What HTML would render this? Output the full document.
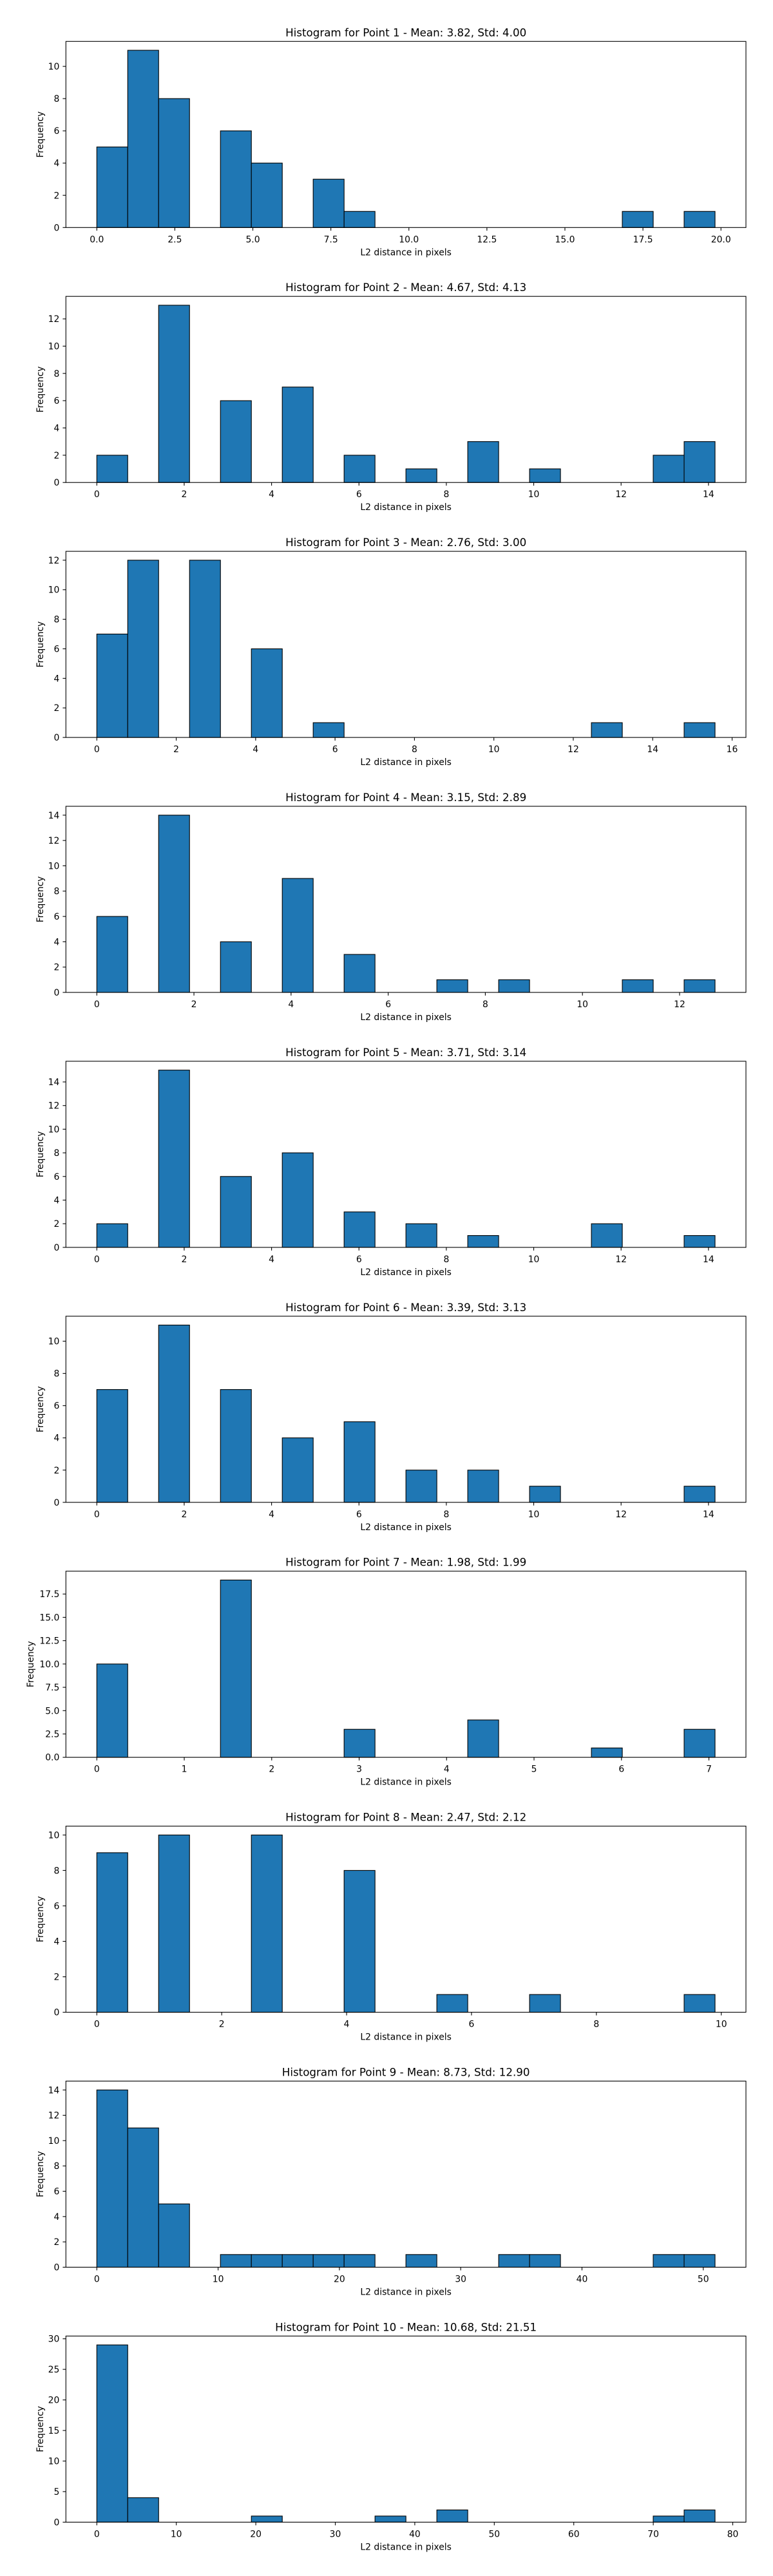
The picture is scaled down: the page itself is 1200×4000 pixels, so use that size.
<!DOCTYPE html>
<html><head><meta charset="utf-8">
<style>
html,body{margin:0;padding:0;background:#fff;}
svg{display:block;}
text{font-family:"DejaVu Sans","Liberation Sans",sans-serif;fill:#000;}
</style></head>
<body>
<svg id="fig" width="1200" height="4000" viewBox="0 0 1200 4000" xmlns="http://www.w3.org/2000/svg"></svg>
<script>
const titles = [
 "Histogram for Point 1 - Mean: 3.82, Std: 4.00",
 "Histogram for Point 2 - Mean: 4.67, Std: 4.13",
 "Histogram for Point 3 - Mean: 2.76, Std: 3.00",
 "Histogram for Point 4 - Mean: 3.15, Std: 2.89",
 "Histogram for Point 5 - Mean: 3.71, Std: 3.14",
 "Histogram for Point 6 - Mean: 3.39, Std: 3.13",
 "Histogram for Point 7 - Mean: 1.98, Std: 1.99",
 "Histogram for Point 8 - Mean: 2.47, Std: 2.12",
 "Histogram for Point 9 - Mean: 8.73, Std: 12.90",
 "Histogram for Point 10 - Mean: 10.68, Std: 21.51"
];
const dataMax = [19.81, 14.15, 15.57, 12.73, 14.15, 14.15, 7.07, 9.9, 50.97, 77.77];
const counts1 = [5,11,8,0,6,4,0,3,1,0,0,0,0,0,0,0,0,1,0,1];
const counts2 = [2,0,13,0,6,0,7,0,2,0,1,0,3,0,1,0,0,0,2,3];
const counts3 = [7,12,0,12,0,6,0,1,0,0,0,0,0,0,0,0,1,0,0,1];
const counts4 = [6,0,14,0,4,0,9,0,3,0,0,1,0,1,0,0,0,1,0,1];
const counts5 = [2,0,15,0,6,0,8,0,3,0,2,0,1,0,0,0,2,0,0,1];
const counts6 = [7,0,11,0,7,0,4,0,5,0,2,0,2,0,1,0,0,0,0,1];
const counts7 = [10,0,0,0,19,0,0,0,3,0,0,0,4,0,0,0,1,0,0,3];
const counts8 = [9,0,10,0,0,10,0,0,8,0,0,1,0,0,1,0,0,0,0,1];
const counts9 = [14,11,5,0,1,1,1,1,1,0,1,0,0,1,1,0,0,0,1,1];
const counts10 = [29,4,0,0,0,1,0,0,0,1,0,2,0,0,0,0,0,0,1,2];
const allCounts = [counts1,counts2,counts3,counts4,counts5,counts6,counts7,counts8,counts9,counts10];
const xTicks1 = ["0.0","2.5","5.0","7.5","10.0","12.5","15.0","17.5","20.0"];
const xTicks2 = ["0","2","4","6","8","10","12","14"];
const xTicks3 = ["0","2","4","6","8","10","12","14","16"];
const xTicks4 = ["0","2","4","6","8","10","12"];
const xTicks5 = ["0","2","4","6","8","10","12","14"];
const xTicks6 = ["0","2","4","6","8","10","12","14"];
const xTicks7 = ["0","1","2","3","4","5","6","7"];
const xTicks8 = ["0","2","4","6","8","10"];
const xTicks9 = ["0","10","20","30","40","50"];
const xTicks10 = ["0","10","20","30","40","50","60","70","80"];
const allXTicks = [xTicks1,xTicks2,xTicks3,xTicks4,xTicks5,xTicks6,xTicks7,xTicks8,xTicks9,xTicks10];
const yTicks1 = ["0","2","4","6","8","10"];
const yTicks2 = ["0","2","4","6","8","10","12"];
const yTicks3 = ["0","2","4","6","8","10","12"];
const yTicks4 = ["0","2","4","6","8","10","12","14"];
const yTicks5 = ["0","2","4","6","8","10","12","14"];
const yTicks6 = ["0","2","4","6","8","10"];
const yTicks7 = ["0.0","2.5","5.0","7.5","10.0","12.5","15.0","17.5"];
const yTicks8 = ["0","2","4","6","8","10"];
const yTicks9 = ["0","2","4","6","8","10","12","14"];
const yTicks10 = ["0","5","10","15","20","25","30"];
const allYTicks = [yTicks1,yTicks2,yTicks3,yTicks4,yTicks5,yTicks6,yTicks7,yTicks8,yTicks9,yTicks10];

const NS = "http://www.w3.org/2000/svg";
const fig = document.getElementById('fig');
function mk(tag, attrs, parent){
  const e = document.createElementNS(NS, tag);
  for (const k in attrs) e.setAttribute(k, attrs[k]);
  parent.appendChild(e);
  return e;
}
const AX_L = 102.3, AX_R = 1158, AX_H = 289, TOP0 = 64.3, STEP = 395.9;

for (let c = 0; c < 10; c++) {
  const top = TOP0 + STEP * c, bot = top + AX_H;
  const counts = allCounts[c], M = dataMax[c];
  const span = M;
  const x0 = -0.05 * span, x1 = M + 0.05 * span;
  const maxC = Math.max(...counts);
  const y1 = maxC * 1.05;
  const xs = v => AX_L + (v - x0) / (x1 - x0) * (AX_R - AX_L);
  const ys = v => bot - v / y1 * AX_H;

  const g = mk('g', {}, fig);
  
  

  const t = mk('text', {x: (AX_L + AX_R) / 2, y: top - 8, 'text-anchor': 'middle', 'font-size': '16.7'}, g);
  
  
  t.textContent = titles[c];

  const bw = M / 20;
  for (let i = 0; i < 20; i++) {
    const h = counts[i];
    const xa = xs(i * bw), xb = xs((i + 1) * bw);
    const r = mk('rect', {x: xa, y: ys(h), width: xb - xa, height: bot - ys(h), fill: '#1f77b4', stroke: '#000', 'stroke-width': '1.1'}, g);
    
    
  }

  const xt = allXTicks[c];
  for (const lab of xt) {
    const v = parseFloat(lab), px = xs(v);
    mk('line', {x1: px, x2: px, y1: bot, y2: bot + 4.9, stroke: '#000', 'stroke-width': '1.1'}, g);
    const tl = mk('text', {x: px, y: bot + 23, 'text-anchor': 'middle', 'font-size': '13.9'}, g);
    
    
    tl.textContent = lab;
  }
  const yt = allYTicks[c];
  for (const lab of yt) {
    const v = parseFloat(lab), py = ys(v);
    mk('line', {x1: AX_L - 4.9, x2: AX_L, y1: py, y2: py, stroke: '#000', 'stroke-width': '1.1'}, g);
    const tl = mk('text', {x: AX_L - 10, y: py + 5, 'text-anchor': 'end', 'font-size': '13.9'}, g);
    
    
    tl.textContent = lab;
  }
  const frame = mk('rect', {x: AX_L, y: top, width: AX_R - AX_L, height: AX_H, fill: 'none', stroke: '#000', 'stroke-width': '1.1'}, g);
  
  

  const xl = mk('text', {x: (AX_L + AX_R) / 2, y: bot + 43, 'text-anchor': 'middle', 'font-size': '13.9'}, g);
  
  
  xl.textContent = 'L2 distance in pixels';

  const ylx = (c === 6) ? 47 : 62;
  const yl = mk('text', {x: ylx, y: top + AX_H / 2, 'text-anchor': 'middle', 'font-size': '13.9', transform: 'rotate(-90 ' + ylx + ' ' + (top + AX_H / 2) + ')', dy: '5'}, g);
  
  
  yl.textContent = 'Frequency';
}
</script>
</body></html>
